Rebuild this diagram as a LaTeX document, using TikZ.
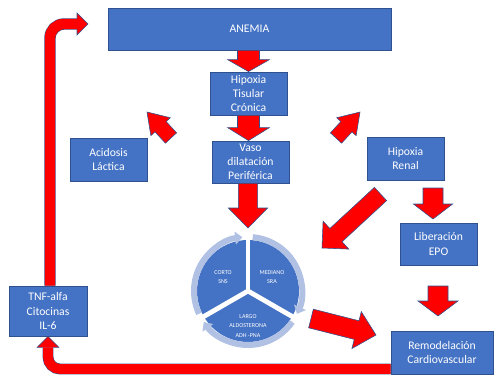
\documentclass[tikz,border=0pt]{standalone}
\usepackage{fontspec}
\setmainfont{Carlito}
\usepackage{tikz}
\usetikzlibrary{arrows.meta,positioning,calc}
\definecolor{boxblue}{HTML}{4472C4}
\definecolor{edgeblue}{HTML}{2F528F}
\definecolor{ringblue}{HTML}{B0C1E4}
\definecolor{arrowred}{HTML}{FF0000}

% block arrow: tail, tip, shaft half width, head half width, head length
\newcommand{\blockarrow}[5]{%
  \coordinate (ba-s) at (#1);
  \coordinate (ba-t) at (#2);
  \coordinate (ba-b) at ($(ba-t)!#5!(ba-s)$);
  \filldraw[redarrow] ($(ba-s)!#3!90:(ba-t)$) -- ($(ba-b)!#3!90:(ba-t)$)
    -- ($(ba-b)!#4!90:(ba-t)$) -- (ba-t) -- ($(ba-b)!#4!-90:(ba-t)$)
    -- ($(ba-b)!#3!-90:(ba-t)$) -- ($(ba-s)!#3!-90:(ba-t)$) -- cycle;
}

\begin{document}
\begin{tikzpicture}[x=0.25mm, y=-0.25mm,
    box/.style={draw=edgeblue, fill=boxblue, text=white, line width=0.6pt, align=center,
      minimum width=19.25mm, minimum height=10.75mm, inner sep=1pt,
      font=\fontsize{8.3}{10}\selectfont},
    redarrow/.style={fill=arrowred, draw=edgeblue, line width=0.4pt},
    ring/.style={draw=ringblue, line width=1.5mm, -{Triangle[length=1.8mm, width=3.2mm]}},
    divider/.style={draw=white, line width=1.2mm},
    tinytext/.style={text=white, align=center, font=\fontsize{4.3}{6.8}\selectfont}]
  \useasboundingbox (0,0) rectangle (494,375);

  % --- Boxes ---
  \node[box, minimum width=70.75mm, minimum height=10.5mm] (anemia) at (249.5,29) {ANEMIA};
  \node[box] (hipT) at (248.5,93.5) {Hipoxia\\Tisular\\Crónica};
  \node[box, minimum height=10.5mm] (vaso) at (250.5,162) {Vaso\\dilatación\\Periférica};
  \node[box] (acidosis) at (108.5,159.5) {Acidosis\\Láctica};
  \node[box] (renal) at (405.5,158.5) {Hipoxia\\Renal};
  \node[box, minimum height=10.5mm] (epo) at (438.5,244) {Liberación\\EPO};
  \node[box, minimum width=25.5mm] (remod) at (442,352.5) {Remodelación\\Cardiovascular};
  \node[box, minimum width=19.5mm, minimum height=12.5mm] (tnf) at (48,311) {TNF-alfa\\Citocinas\\IL-6};

  % --- Cycle (short / medium / long term) ---
  \coordinate (ciclo) at (248,291);
  \begin{scope}[shift={(ciclo)}]
    \fill[boxblue] (0,0) circle[radius=12.75mm];
    \draw[ring] (205:13.5mm) arc[start angle=205, end angle=96, radius=13.5mm];
    \draw[ring] (85:13.5mm) arc[start angle=85, end angle=-25, radius=13.5mm];
    \draw[ring] (-35:13.5mm) arc[start angle=-35, end angle=-145, radius=13.5mm];
    \foreach \a in {90, -30, 210} {
      \draw[divider] (0,0) -- (\a:14.6mm);
    }
    \node[tinytext] (corto) at (-25,-14) {CORTO\\SNS};
    \node[tinytext] (mediano) at (24,-14) {MEDIANO\\SRA};
    \node[tinytext] (largo) at (0,35) {LARGO\\ALDOSTERONA\\ADH -PNA};
  \end{scope}

  % --- Red block arrows ---
  \coordinate (vaso-tip) at (248,228);
  \coordinate (acid-tail) at (171,138);
  \coordinate (acid-tip) at (147,112);
  \coordinate (ren-tail) at (336,138);
  \coordinate (ren-tip) at (360,112);
  \coordinate (renc-tail) at (380.5,194);
  \coordinate (renc-tip) at (322,248);
  \coordinate (epo-tail) at (433,188);
  \coordinate (epo-tip) at (433,219);
  \coordinate (rem-tail) at (438,286);
  \coordinate (rem-tip) at (438,316);
  \coordinate (cic-tail) at (311,318.5);
  \coordinate (cic-tip) at (376,335);

  \blockarrow{hipT.north |- anemia.south}{hipT.north}{2.75mm}{5.25mm}{3mm}
  \blockarrow{hipT.south}{hipT.south |- vaso.north}{2.75mm}{5.25mm}{3.25mm}
  \blockarrow{vaso-tip |- vaso.south}{vaso-tip}{2.4mm}{4.9mm}{5mm}
  \blockarrow{acid-tail}{acid-tip}{1.9mm}{3.3mm}{5mm}
  \blockarrow{ren-tail}{ren-tip}{1.9mm}{3.3mm}{5mm}
  \blockarrow{renc-tail}{renc-tip}{2.25mm}{4.75mm}{4.75mm}
  \blockarrow{epo-tail}{epo-tip}{2.5mm}{4.9mm}{3.75mm}
  \blockarrow{rem-tail}{rem-tip}{2.5mm}{5mm}{3.75mm}
  \blockarrow{cic-tail}{cic-tip}{2.4mm}{4.75mm}{5mm}

  % --- Feedback loop: remodelacion -> TNF -> anemia ---
  \coordinate (loop-a) at ($(remod.west)+(0,16.5)$);
  \coordinate (loop-b) at ($(tnf.south)+(0,11)$);
  \draw[edgeblue, line width=2.7mm, rounded corners=3mm] (loop-a) -| (loop-b);
  \draw[arrowred, line width=2.45mm, rounded corners=3mm] (loop-a) -| (loop-b);
  \fill[arrowred] ($(loop-b)+(-11,0)$) -- (tnf.south) -- ($(loop-b)+(11,0)$) -- cycle;
  \draw[edgeblue, line width=0.4pt] ($(loop-b)+(-5.4,0)$) -- ($(loop-b)+(-11,0)$)
    -- (tnf.south) -- ($(loop-b)+(11,0)$) -- ($(loop-b)+(5.4,0)$);

  \coordinate (loop-c) at ($(tnf.north)+(2,0)$);
  \coordinate (loop-d) at (77,24);
  \coordinate (loop-e) at (88,24);
  \draw[edgeblue, line width=2.85mm, rounded corners=3.5mm] (loop-c) |- (loop-d);
  \draw[arrowred, line width=2.6mm, rounded corners=3.5mm] (loop-c) |- (loop-d);
  \fill[arrowred] ($(loop-d)+(0,-11)$) -- (loop-e) -- ($(loop-d)+(0,11)$) -- cycle;
  \draw[edgeblue, line width=0.4pt] ($(loop-d)+(0,-5.7)$) -- ($(loop-d)+(0,-11)$)
    -- (loop-e) -- ($(loop-d)+(0,11)$) -- ($(loop-d)+(0,5.7)$);
\end{tikzpicture}
\end{document}
